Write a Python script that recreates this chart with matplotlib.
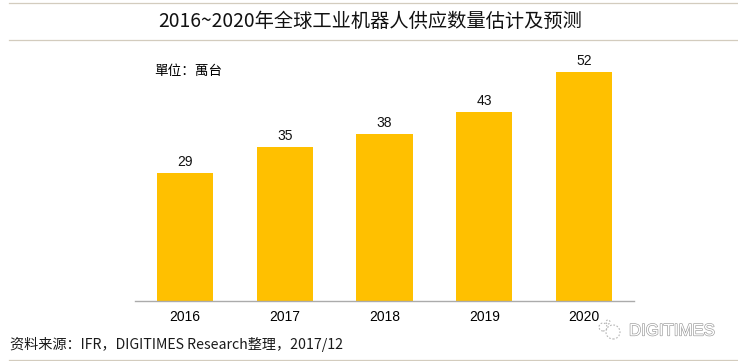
import matplotlib
matplotlib.use("Agg")
import matplotlib.pyplot as plt
from matplotlib.lines import Line2D
from matplotlib.patches import Circle
import matplotlib.patheffects as pe

years = ["2016", "2017", "2018", "2019", "2020"]
values = [29, 35, 38, 43, 52]
title = "2016~2020年全球工业机器人供应数量估计及预测"
unit = "單位：萬台"
source = "资料来源：IFR，DIGITIMES Research整理，2017/12"
watermark = "DIGITIMES"

W, H = 738, 361
CJK = ["Noto Sans CJK SC", "DejaVu Sans"]
plt.rcParams["font.family"] = ["Liberation Sans", "Noto Sans CJK SC", "DejaVu Sans"]
fig = plt.figure(figsize=(W / 100, H / 100), dpi=100, facecolor="white")

ax = fig.add_axes([135 / W, 1 - 301 / H, 499 / W, 261 / H])
bars = ax.bar(range(len(years)), values, width=0.565, color="#FFC000")
ax.set_xlim(-0.5, 4.5)
ax.set_ylim(0, 261 / 4.4)
ax.set_xticks(range(len(years)), years, fontsize=10, color="black")
ax.tick_params(axis="x", length=0, pad=6.5)
ax.set_yticks([])
for s in ("top", "left", "right"):
    ax.spines[s].set_visible(False)
ax.spines["bottom"].set_color("#ABABAB")
ax.spines["bottom"].set_linewidth(1.0)
ax.bar_label(bars, labels=[str(v) for v in values], padding=3, fontsize=10, color="#111111")

rule = "#D3CCBE"
for y in (2.5, 39.5, 360):
    fig.add_artist(Line2D([9 / W, 1], [1 - y / H] * 2, color=rule, lw=0.9, transform=fig.transFigure))

fig.text(370.5 / W, 1 - 21 / H, title, ha="center", va="center", fontsize=13.85, color="#111111", family=CJK, weight="light")
fig.text(154 / W, 1 - 71 / H, unit, ha="left", va="center", fontsize=9.8, color="black", family=CJK)
fig.text(10 / W, 1 - 344 / H, source, ha="left", va="center", fontsize=10.2, color="#1a1a1a", family=CJK, weight="light")
fig.text(629 / W, 1 - 331 / H, watermark, ha="left", va="center", fontsize=12.1, color="white",
         path_effects=[pe.withStroke(linewidth=0.9, foreground="#999999")])

for cx, cy, r in ((613, 332, 7), (603, 327, 4), (608, 322, 2)):
    fig.add_artist(Circle((cx, H - cy), r, transform=None, fill=False, ec="#b5b5b5", lw=0.8, ls=(0, (1.5, 1.5))))

fig.savefig("out.png", dpi=100)
